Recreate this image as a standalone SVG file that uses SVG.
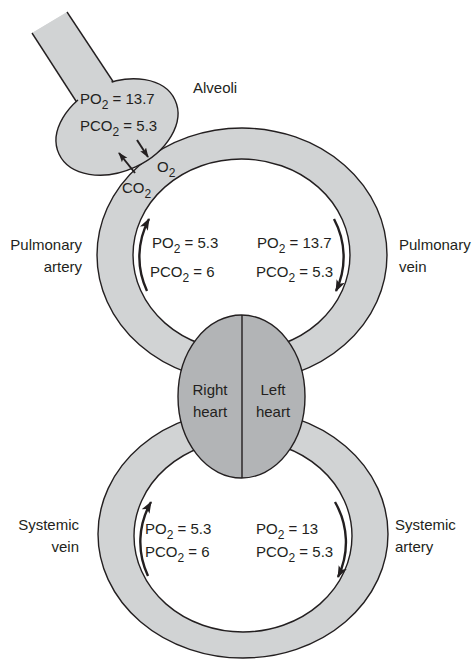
<svg xmlns="http://www.w3.org/2000/svg" width="472" height="660" viewBox="0 0 472 660">
  <style>
    .vessel { fill: #d1d3d4; stroke: #231f20; stroke-width: 1.4; fill-rule: evenodd; }
    .heart { fill: #b2b4b6; stroke: #231f20; stroke-width: 1.4; }
    .edge { fill: none; stroke: #231f20; stroke-width: 1.4; }
    .flow { fill: none; stroke: #231f20; stroke-width: 2.4; }
    .gas { fill: none; stroke: #231f20; stroke-width: 2; }
    text { font-family: "Liberation Sans", Arial, sans-serif; font-size: 15px; fill: #231f20; }
    .sub { font-size: 12px; }
    .mid { text-anchor: middle; }
    .end { text-anchor: end; }
  </style>
  <defs>
    <marker id="head" markerUnits="userSpaceOnUse" markerWidth="14" markerHeight="10" refX="11" refY="4.5" orient="auto">
      <path d="M0,0 L12,4.5 L0,9 L3,4.5 Z" fill="#231f20"/>
    </marker>
    <marker id="headSmall" markerUnits="userSpaceOnUse" markerWidth="11" markerHeight="9" refX="9" refY="3.5" orient="auto">
      <path d="M0,0 L10,3.5 L0,7 L2,3.5 Z" fill="#231f20"/>
    </marker>
  </defs>

  <!-- pulmonary circulation loop -->
  <g id="pulmonary-loop">
    <path class="vessel" d="M97,255 a145,127 0 1,0 290,0 a145,127 0 1,0 -290,0 Z M133,255 a108.5,96 0 1,0 217,0 a108.5,96 0 1,0 -217,0 Z"/>
  </g>

  <!-- systemic circulation loop -->
  <g id="systemic-loop">
    <path class="vessel" d="M98,534 a145,124 0 1,0 290,0 a145,124 0 1,0 -290,0 Z M134,536 a109,96 0 1,0 218,0 a109,96 0 1,0 -218,0 Z"/>
  </g>

  <!-- heart -->
  <g id="heart">
    <ellipse class="heart" cx="241.5" cy="396.5" rx="63.5" ry="81.5"/>
    <line class="edge" x1="242" y1="315" x2="242" y2="478"/>
    <text class="mid" x="210" y="395">Right</text>
    <text class="mid" x="210" y="417">heart</text>
    <text class="mid" x="273" y="395">Left</text>
    <text class="mid" x="273" y="417">heart</text>
  </g>

  <!-- airway and alveolus -->
  <g id="alveoli">
    <polygon points="32,33 67,12 120,92 85,115" fill="#d1d3d4"/>
    <line class="edge" x1="32" y1="33" x2="85" y2="115"/>
    <line class="edge" x1="67" y1="12" x2="120" y2="92"/>
    <ellipse cx="117" cy="127" rx="64" ry="44" transform="rotate(-25 117 127)" fill="#d1d3d4" stroke="#231f20" stroke-width="1.4"/>
    <polygon points="33.2,32.6 66,13 118,92 86,112" fill="#d1d3d4"/>
    <text x="193" y="93">Alveoli</text>
    <text x="80" y="104">PO<tspan class="sub" dy="5">2</tspan><tspan dy="-5"> = 13.7</tspan></text>
    <text x="80" y="131">PCO<tspan class="sub" dy="5">2</tspan><tspan dy="-5"> = 5.3</tspan></text>
  </g>

  <!-- gas exchange and flow arrows -->
  <g id="connectors">
    <line class="gas" x1="137" y1="140" x2="148" y2="157" marker-end="url(#headSmall)"/>
    <line class="gas" x1="135" y1="173" x2="119" y2="153" marker-end="url(#headSmall)"/>
    <path class="flow" d="M147,291 A103,90 0 0,1 149,219" marker-end="url(#head)"/>
    <path class="flow" d="M334,219 A103,90 0 0,1 336,291" marker-end="url(#head)"/>
    <path class="flow" d="M148,576 A103,90 0 0,1 151,502" marker-end="url(#head)"/>
    <path class="flow" d="M335,502 A103,90 0 0,1 338,577" marker-end="url(#head)"/>
  </g>

  <!-- gas labels at the exchange surface -->
  <g id="gas-labels">
    <text x="157" y="172">O<tspan class="sub" dy="5">2</tspan></text>
    <text x="122" y="193">CO<tspan class="sub" dy="5">2</tspan></text>
  </g>

  <!-- vessel names -->
  <g id="vessel-labels">
    <text class="end" x="82" y="250">Pulmonary</text>
    <text class="end" x="82" y="272">artery</text>
    <text x="399" y="250">Pulmonary</text>
    <text x="399" y="272">vein</text>
    <text class="end" x="79" y="530">Systemic</text>
    <text class="end" x="79" y="552">vein</text>
    <text x="395" y="530">Systemic</text>
    <text x="395" y="552">artery</text>
  </g>

  <!-- partial pressures inside the loops -->
  <g id="pressures">
    <text x="152" y="248">PO<tspan class="sub" dy="5">2</tspan><tspan dy="-5"> = 5.3</tspan></text>
    <text x="150" y="277">PCO<tspan class="sub" dy="5">2</tspan><tspan dy="-5"> = 6</tspan></text>
    <text x="257" y="248">PO<tspan class="sub" dy="5">2</tspan><tspan dy="-5"> = 13.7</tspan></text>
    <text x="256" y="277">PCO<tspan class="sub" dy="5">2</tspan><tspan dy="-5"> = 5.3</tspan></text>
    <text x="145" y="534">PO<tspan class="sub" dy="5">2</tspan><tspan dy="-5"> = 5.3</tspan></text>
    <text x="145" y="557">PCO<tspan class="sub" dy="5">2</tspan><tspan dy="-5"> = 6</tspan></text>
    <text x="256" y="534">PO<tspan class="sub" dy="5">2</tspan><tspan dy="-5"> = 13</tspan></text>
    <text x="256" y="557">PCO<tspan class="sub" dy="5">2</tspan><tspan dy="-5"> = 5.3</tspan></text>
  </g>
</svg>
